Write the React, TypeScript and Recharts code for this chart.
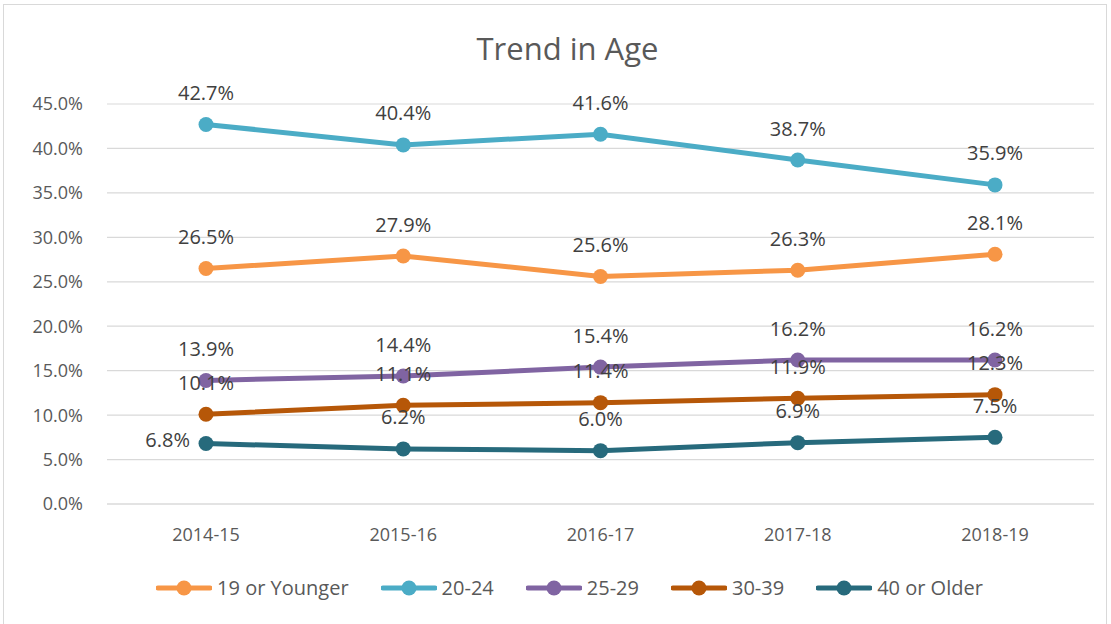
import { CartesianGrid, Line, LineChart, XAxis, YAxis } from "recharts";

const years = ["2014-15", "2015-16", "2016-17", "2017-18", "2018-19"];
const under19 = [26.5, 27.9, 25.6, 26.3, 28.1];
const age20to24 = [42.7, 40.4, 41.6, 38.7, 35.9];
const age25to29 = [13.9, 14.4, 15.4, 16.2, 16.2];
const age30to39 = [10.1, 11.1, 11.4, 11.9, 12.3];
const over40 = [6.8, 6.2, 6.0, 6.9, 7.5];
const yTicks = [0, 5, 10, 15, 20, 25, 30, 35, 40, 45];

const series = [
  { key: "under19", name: "19 or Younger", color: "#F79646", values: under19 },
  { key: "age20to24", name: "20-24", color: "#4BACC6", values: age20to24 },
  { key: "age25to29", name: "25-29", color: "#8064A2", values: age25to29 },
  { key: "age30to39", name: "30-39", color: "#B65708", values: age30to39 },
  { key: "over40", name: "40 or Older", color: "#276A7C", values: over40 },
];

const data = years.map((year, i) => {
  const row: any = { year };
  series.forEach((s) => (row[s.key] = s.values[i]));
  return row;
});

const FONT = "'Open Sans', sans-serif";
const fmt = (v: number) => `${v.toFixed(1)}%`;

const makeLabel = (leftFirst: boolean) => (props: any) => {
  const { x, y, value, index } = props;
  if (leftFirst && index === 0) {
    return (
      <text x={x - 16} y={y - 4} textAnchor="end" dominantBaseline="central" fontSize={20} fill="#404040" fontFamily={FONT}>
        {fmt(value)}
      </text>
    );
  }
  return (
    <text x={x} y={y - 32} textAnchor="middle" dominantBaseline="central" fontSize={20} fill="#404040" fontFamily={FONT}>
      {fmt(value)}
    </text>
  );
};

const Legend = () => (
  <div
    style={{
      position: "absolute",
      top: 574,
      left: 0,
      width: 1111,
      boxSizing: "border-box",
      display: "flex",
      justifyContent: "center",
      gap: 32,
      fontFamily: FONT,
      fontSize: 20,
      color: "#595959",
      paddingLeft: 28,
    }}
  >
    {series.map((s) => (
      <div key={s.key} style={{ display: "flex", alignItems: "center", gap: 5 }}>
        <svg width={56} height={26}>
          <line x1={2} y1={13} x2={54} y2={13} stroke={s.color} strokeWidth={5} strokeLinecap="round" />
          <circle cx={28} cy={13} r={7.5} fill={s.color} />
        </svg>
        <span>{s.name}</span>
      </div>
    ))}
  </div>
);

export default function App() {
  return (
    <div style={{ position: "absolute", left: 0, top: 0, width: 1111, height: 624, overflow: "hidden", background: "#fff" }}>
      <div style={{ position: "absolute", left: 3, top: 4, width: 1102, height: 640, border: "1px solid #d9d9d9" }} />
      <div
        style={{
          position: "absolute",
          top: 27,
          left: 0,
          width: 1111,
          paddingLeft: 24,
          boxSizing: "border-box",
          textAlign: "center",
          fontFamily: FONT,
          fontSize: 31,
          color: "#595959",
        }}
      >
        Trend in Age
      </div>
      <div style={{ position: "absolute", left: 0, top: 0 }}>
        <LineChart width={1111} height={624} data={data} margin={{ top: 104, right: 17, left: 0, bottom: 80 }}>
          <CartesianGrid vertical={false} stroke="#d9d9d9" strokeWidth={1.2} />
          <XAxis
            dataKey="year"
            height={40}
            padding={{ left: 99, right: 99 }}
            axisLine={{ stroke: "#d9d9d9", strokeWidth: 1.2 }}
            tickLine={false}
            tickSize={0}
            tickMargin={24}
            tick={{ fill: "#595959", fontSize: 18, fontFamily: FONT }}
          />
          <YAxis
            width={107}
            domain={[0, 45]}
            ticks={yTicks}
            interval={0}
            tickFormatter={fmt}
            axisLine={false}
            tickLine={false}
            tickSize={0}
            tickMargin={24}
            tick={{ fill: "#595959", fontSize: 18, fontFamily: FONT }}
          />
          {series.map((s) => (
            <Line
              key={s.key}
              dataKey={s.key}
              name={s.name}
              type="linear"
              stroke={s.color}
              strokeWidth={5}
              dot={{ r: 7.5, fill: s.color, stroke: s.color, strokeWidth: 0 }}
              activeDot={false}
              isAnimationActive={false}
              label={makeLabel(s.key === "over40")}
            />
          ))}
        </LineChart>
      </div>
      <Legend />
    </div>
  );
}
